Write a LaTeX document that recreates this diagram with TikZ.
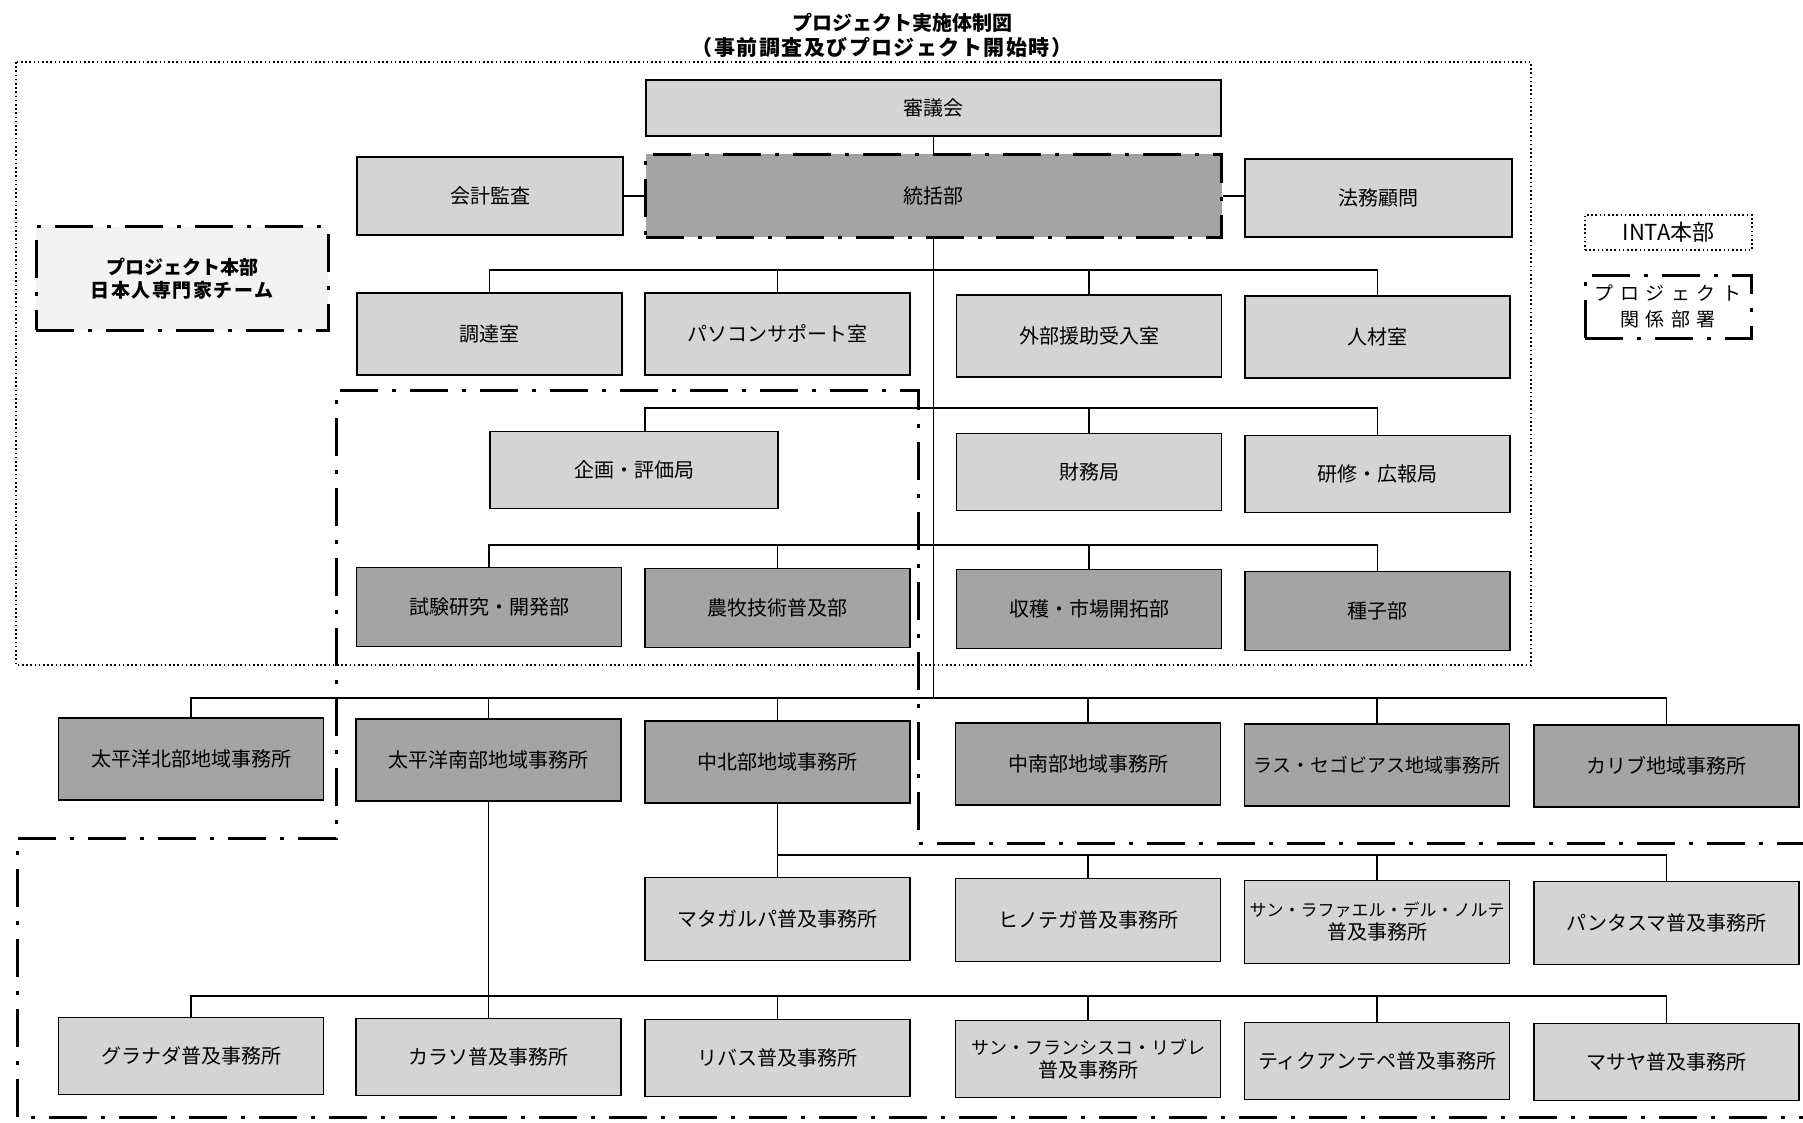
\documentclass[tikz,border=0pt]{standalone}
\usepackage{fontspec}
\setmainfont{Noto Sans CJK JP}
\definecolor{lightfill}{HTML}{D4D4D4}
\definecolor{darkfill}{HTML}{A4A4A4}
\definecolor{hqfill}{HTML}{F3F3F3}
\begin{document}
\begin{tikzpicture}[x=1pt,y=-1pt,
  box/.style={draw=black, line width=1.3pt, minimum width=265pt, minimum height=80pt,
    inner sep=2pt, align=center, font=\fontsize{20}{23}\selectfont},
  lbox/.style={box, fill=lightfill},
  dbox/.style={box, fill=darkfill},
  wire/.style={draw=black, line width=1.3pt},
  dashdot/.style={line width=3pt, dash pattern=on 38pt off 14pt on 4pt off 14pt},
  intaline/.style={line width=1.3pt, dash pattern=on 1.6pt off 2.6pt},
]
\useasboundingbox (0,0) rectangle (1803,1123);

% title
\node[font=\bfseries\fontsize{20}{24}\selectfont] (title) at (902,23) {プロジェクト実施体制図};
\node[font=\bfseries\fontsize{21}{24}\selectfont\addfontfeature{LetterSpace=7}] (subtitle) at (882,47) {（事前調査及びプロジェクト開始時）};

% INTA headquarters boundary
\draw[intaline] (16,62) rectangle (1531,665);

% project-related departments boundary
\draw[dashdot] (1815,843) -- (918,843) -- (918,390) -- (336,390) -- (336,838)
  -- (17,838) -- (17,1117) -- (1815,1117);

% bus levels
\coordinate (y1) at (0,270);
\coordinate (kdrop) at (645,408);
\coordinate (y3) at (0,545);
\coordinate (yR) at (0,698);
\coordinate (yE1) at (0,855);
\coordinate (yE2) at (0,996);

% top management
\node[lbox, minimum width=575pt, minimum height=56pt] (shingi) at (933.5,108) {審議会};
\node[dbox, dashdot, minimum width=576pt, minimum height=83pt] (tokatsu) at (933.5,196) {統括部};
\node[lbox, minimum width=266pt, minimum height=78pt] (kaikei) at (490,196) {会計監査};
\node[lbox, minimum width=267pt, minimum height=78pt] (homu) at (1378.5,198) {法務顧問};

% staff offices
\node[lbox, minimum height=82pt] (chotatsu) at (489.5,334) {調達室};
\node[lbox, minimum height=82pt] (pasokon) at (777.5,334) {パソコンサポート室};
\node[lbox, minimum height=82pt] (gaibu) at (1089,336) {外部援助受入室};
\node[lbox, minimum height=82pt] (jinzai) at (1377.5,337) {人材室};

% bureaus
\node[lbox, minimum width=288pt, minimum height=77pt] (kikaku) at (634,470) {企画・評価局};
\node[lbox, minimum height=77pt] (zaimu) at (1089,472) {財務局};
\node[lbox, minimum height=77pt] (kenshu) at (1377.5,474) {研修・広報局};

% departments
\node[dbox, minimum height=79pt] (shiken) at (489,607) {試験研究・開発部};
\node[dbox, minimum height=79pt] (nobo) at (777.5,608) {農牧技術普及部};
\node[dbox, minimum height=79pt] (shukaku) at (1089,609) {収穫・市場開拓部};
\node[dbox, minimum height=79pt] (shushi) at (1377.5,611) {種子部};

% regional offices
\node[dbox, minimum height=82pt] (pn) at (191,759) {太平洋北部地域事務所};
\node[dbox, minimum height=82pt] (ps) at (488.5,760) {太平洋南部地域事務所};
\node[dbox, minimum height=82pt] (cn) at (777.5,762) {中北部地域事務所};
\node[dbox, minimum height=82pt] (cs) at (1088,764) {中南部地域事務所};
\node[dbox, minimum height=82pt, font=\fontsize{19}{23}\selectfont] (seg) at (1377,765) {ラス・セゴビアス地域事務所};
\node[dbox, minimum height=82pt] (carib) at (1666.5,766) {カリブ地域事務所};

% extension offices, first row
\node[lbox, minimum height=83pt] (mat) at (777.5,919) {マタガルパ普及事務所};
\node[lbox, minimum height=83pt] (jin) at (1088,920) {ヒノテガ普及事務所};
\node[lbox, minimum height=83pt] (srn) at (1377,922) {{\fontsize{17}{22}\selectfont サン・ラファエル・デル・ノルテ}\\普及事務所};
\node[lbox, minimum height=83pt] (pan) at (1666.5,923) {パンタスマ普及事務所};

% extension offices, second row
\node[lbox, minimum height=77pt] (gra) at (191,1056) {グラナダ普及事務所};
\node[lbox, minimum height=77pt] (caraz) at (488.5,1057) {カラソ普及事務所};
\node[lbox, minimum height=77pt] (riv) at (777.5,1058) {リバス普及事務所};
\node[lbox, minimum height=77pt] (sfl) at (1088,1059) {{\fontsize{18}{22}\selectfont サン・フランシスコ・リブレ}\\普及事務所};
\node[lbox, minimum height=77pt] (tic) at (1377,1061) {ティクアンテペ普及事務所};
\node[lbox, minimum height=77pt] (mas) at (1666.5,1062) {マサヤ普及事務所};

% legends
\node[draw, dashdot, fill=hqfill, minimum width=292pt, minimum height=103pt, align=center,
  font=\bfseries\fontsize{19}{23}\selectfont] (hq) at (182,278.5) {プロジェクト本部\\{\addfontfeature{LetterSpace=8}日本人専門家チーム}};
\node[draw, intaline, minimum width=167pt, minimum height=35pt,
  font=\fontsize{22}{24}\selectfont] (intalegend) at (1668.5,232.5) {INTA本部};
\node[draw, dashdot, minimum width=166pt, minimum height=63pt, align=center,
  font=\fontsize{19}{26}\selectfont\addfontfeature{LetterSpace=35}] (kankei) at (1668,306.5) {プロジェクト\\関係部署};

% connectors
\draw[wire] (shingi.south) -- (tokatsu.north);
\draw[wire] (kaikei.east) -- (tokatsu.west);
\draw[wire] (tokatsu.east) -- (homu.west |- tokatsu.east);
\draw[wire] (tokatsu.south) -- (tokatsu.south |- yR);

\draw[wire] (chotatsu.north) -- (chotatsu.north |- y1) -- (jinzai.north |- y1) -- (jinzai.north);
\draw[wire] (pasokon.north |- y1) -- (pasokon.north);
\draw[wire] (gaibu.north |- y1) -- (gaibu.north);

\draw[wire] (kdrop |- kikaku.north) -- (kdrop) -- (kenshu.north |- kdrop) -- (kenshu.north);
\draw[wire] (zaimu.north |- kdrop) -- (zaimu.north);

\draw[wire] (shiken.north) -- (shiken.north |- y3) -- (shushi.north |- y3) -- (shushi.north);
\draw[wire] (nobo.north |- y3) -- (nobo.north);
\draw[wire] (shukaku.north |- y3) -- (shukaku.north);

\draw[wire] (pn.north) -- (pn.north |- yR) -- (carib.north |- yR) -- (carib.north);
\draw[wire] (ps.north |- yR) -- (ps.north);
\draw[wire] (cn.north |- yR) -- (cn.north);
\draw[wire] (cs.north |- yR) -- (cs.north);
\draw[wire] (seg.north |- yR) -- (seg.north);

\draw[wire] (cn.south) -- (cn.south |- yE1) -- (pan.north |- yE1) -- (pan.north);
\draw[wire] (mat.north |- yE1) -- (mat.north);
\draw[wire] (jin.north |- yE1) -- (jin.north);
\draw[wire] (srn.north |- yE1) -- (srn.north);

\draw[wire] (ps.south) -- (caraz.north);
\draw[wire] (gra.north) -- (gra.north |- yE2) -- (mas.north |- yE2) -- (mas.north);
\draw[wire] (riv.north |- yE2) -- (riv.north);
\draw[wire] (sfl.north |- yE2) -- (sfl.north);
\draw[wire] (tic.north |- yE2) -- (tic.north);
\end{tikzpicture}
\end{document}
